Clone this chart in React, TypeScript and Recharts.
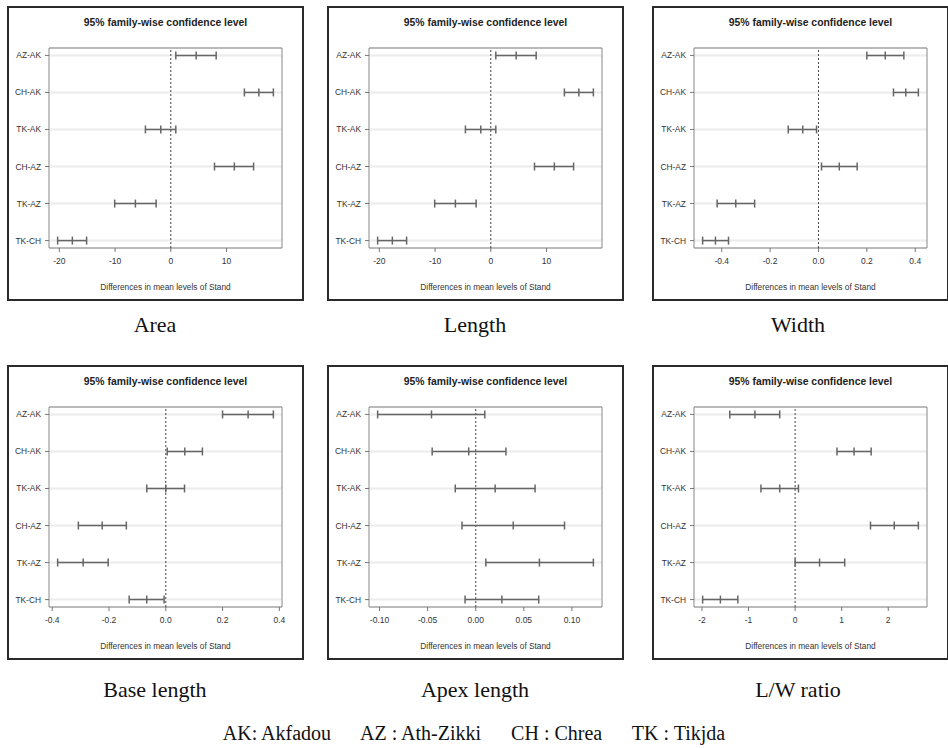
import {
  CartesianGrid,
  ErrorBar,
  ReferenceArea,
  ReferenceLine,
  Scatter,
  ScatterChart,
  XAxis,
  YAxis,
} from 'recharts';

const PAIRS = ['AZ-AK', 'CH-AK', 'TK-AK', 'CH-AZ', 'TK-AZ', 'TK-CH'];

const AREA_DIFF = [4.55, 15.8, -1.8, 11.4, -6.35, -17.66];
const AREA_LWR = [0.9, 13.2, -4.55, 7.84, -10.06, -20.3];
const AREA_UPR = [8.14, 18.4, 0.9, 14.85, -2.63, -15.1];

const LENGTH_DIFF = [4.55, 15.8, -1.8, 11.4, -6.35, -17.66];
const LENGTH_LWR = [0.9, 13.2, -4.55, 7.84, -10.06, -20.3];
const LENGTH_UPR = [8.14, 18.4, 0.9, 14.85, -2.63, -15.1];

const WIDTH_DIFF = [0.276, 0.361, -0.065, 0.086, -0.342, -0.426];
const WIDTH_LWR = [0.2, 0.31, -0.125, 0.0125, -0.419, -0.479];
const WIDTH_UPR = [0.353, 0.413, -0.008, 0.16, -0.264, -0.372];

const BASE_DIFF = [0.29, 0.067, 0.0, -0.224, -0.291, -0.067];
const BASE_LWR = [0.2, 0.005, -0.067, -0.308, -0.381, -0.129];
const BASE_UPR = [0.379, 0.129, 0.066, -0.139, -0.203, -0.006];

const APEX_DIFF = [-0.046, -0.0073, 0.0202, 0.039, 0.0662, 0.0272];
const APEX_LWR = [-0.102, -0.0453, -0.0213, -0.0143, 0.0105, -0.0111];
const APEX_UPR = [0.0094, 0.0314, 0.0617, 0.0923, 0.1223, 0.0655];

const LW_DIFF = [-0.863, 1.266, -0.331, 2.129, 0.525, -1.604];
const LW_LWR = [-1.403, 0.899, -0.734, 1.619, 0.0, -1.986];
const LW_UPR = [-0.331, 1.633, 0.072, 2.647, 1.065, -1.23];

const TICKS_20 = [-20, -10, 0, 10];
const TICKS_04 = [-0.4, -0.2, 0, 0.2, 0.4];
const TICKS_010 = [-0.1, -0.05, 0, 0.05, 0.1];
const TICKS_2 = [-2, -1, 0, 1, 2];

const ROWS = [1, 2, 3, 4, 5, 6];
const INK = '#333';
const BAR = '#666';
const SANS = '"Liberation Sans", Arial, sans-serif';
const SERIF = '"Liberation Serif", "Times New Roman", serif';

const BOX_W = 297;
const BOX_H = 295;

interface PanelProps {
  left: number;
  top: number;
  diff: number[];
  lwr: number[];
  upr: number[];
  ticks: number[];
  digits: number;
}

function MidTick(props: any) {
  const { cx, cy } = props;
  if (cx == null || cy == null) return null;
  return <line x1={cx} x2={cx} y1={cy - 4} y2={cy + 4} stroke={BAR} strokeWidth={1.5} />;
}

function Panel({ left, top, diff, lwr, upr, ticks, digits }: PanelProps) {
  const data = PAIRS.map((pair, i) => ({
    pair,
    row: i + 1,
    diff: diff[i],
    err: [diff[i] - lwr[i], upr[i] - diff[i]],
  }));
  // R-style 4% padding around the interval range
  const min = Math.min(...lwr);
  const max = Math.max(...upr);
  const pad = (max - min) * 0.04;
  const lo = min - pad;
  const hi = max + pad;

  return (
    <div
      style={{
        position: 'absolute',
        left,
        top,
        width: BOX_W,
        height: BOX_H,
        border: '2px solid #2a2a2a',
        boxSizing: 'border-box',
        background: '#fff',
        fontFamily: SANS,
      }}
    >
      <div
        style={{
          position: 'absolute',
          left: 40,
          top: 9,
          width: 233,
          textAlign: 'center',
          fontSize: 10.4,
          fontWeight: 'bold',
          color: '#222',
          lineHeight: '12px',
        }}
      >
        95% family-wise confidence level
      </div>
      <ScatterChart width={BOX_W - 4} height={BOX_H - 4} margin={{ top: 40, right: 20, left: 0, bottom: 0 }}>
        <CartesianGrid horizontal vertical={false} stroke="#ececec" strokeWidth={2} />
        <XAxis
          type="number"
          dataKey="diff"
          domain={[lo, hi]}
          allowDataOverflow
          ticks={ticks}
          interval={0}
          tickFormatter={(v: number) => v.toFixed(digits)}
          tick={{ fontSize: 8.5, fill: INK }}
          tickSize={4}
          tickMargin={6}
          tickLine={{ stroke: '#777' }}
          axisLine={false}
          height={51}
          label={{ value: 'Differences in mean levels of Stand', position: 'insideBottom', offset: 9, fontSize: 8.3, fill: INK }}
        />
        <YAxis
          type="number"
          dataKey="row"
          domain={[0.8, 6.2]}
          allowDataOverflow
          reversed
          ticks={ROWS}
          interval={0}
          tickFormatter={(v: number) => PAIRS[v - 1]}
          tick={{ fontSize: 8.4, fill: INK }}
          tickSize={4}
          tickMargin={4}
          tickLine={{ stroke: '#777' }}
          axisLine={false}
          width={40}
        />
        <ReferenceArea x1={lo} x2={hi} y1={0.8} y2={6.2} fill="none" stroke="#888" ifOverflow="visible" />
        <ReferenceLine x={0} stroke="#444" strokeDasharray="2 2" />
        <Scatter data={data} shape={<MidTick />} isAnimationActive={false}>
          <ErrorBar dataKey="err" direction="x" width={4} stroke={BAR} strokeWidth={1.5} isAnimationActive={false} />
        </Scatter>
      </ScatterChart>
    </div>
  );
}

function Caption({ text, x, y }: { text: string; x: number; y: number }) {
  return (
    <div
      style={{
        position: 'absolute',
        left: x - 100,
        top: y - 13,
        width: 200,
        textAlign: 'center',
        fontFamily: SERIF,
        fontSize: 22,
        lineHeight: '26px',
        color: '#111',
      }}
    >
      {text}
    </div>
  );
}

export default function App() {
  return (
    <div style={{ position: 'fixed', left: 0, top: 0, width: 948, height: 748, overflow: 'hidden', background: '#fff' }}>
      <Panel left={7} top={6} diff={AREA_DIFF} lwr={AREA_LWR} upr={AREA_UPR} ticks={TICKS_20} digits={0} />
      <Panel left={327} top={6} diff={LENGTH_DIFF} lwr={LENGTH_LWR} upr={LENGTH_UPR} ticks={TICKS_20} digits={0} />
      <Panel left={652} top={6} diff={WIDTH_DIFF} lwr={WIDTH_LWR} upr={WIDTH_UPR} ticks={TICKS_04} digits={1} />
      <Panel left={7} top={365} diff={BASE_DIFF} lwr={BASE_LWR} upr={BASE_UPR} ticks={TICKS_04} digits={1} />
      <Panel left={327} top={365} diff={APEX_DIFF} lwr={APEX_LWR} upr={APEX_UPR} ticks={TICKS_010} digits={2} />
      <Panel left={652} top={365} diff={LW_DIFF} lwr={LW_LWR} upr={LW_UPR} ticks={TICKS_2} digits={0} />

      <Caption text="Area" x={155} y={325} />
      <Caption text="Length" x={475} y={325} />
      <Caption text="Width" x={798} y={325} />
      <Caption text="Base length" x={155} y={690} />
      <Caption text="Apex length" x={475} y={690} />
      <Caption text="L/W ratio" x={798} y={690} />

      <div
        style={{
          position: 'absolute',
          left: 0,
          top: 720,
          width: 948,
          textAlign: 'center',
          fontFamily: SERIF,
          fontSize: 20,
          lineHeight: '26px',
          color: '#111',
          whiteSpace: 'pre',
        }}
      >
        {'AK: Akfadou      AZ : Ath-Zikki      CH : Chrea      TK : Tikjda'}
      </div>
    </div>
  );
}
